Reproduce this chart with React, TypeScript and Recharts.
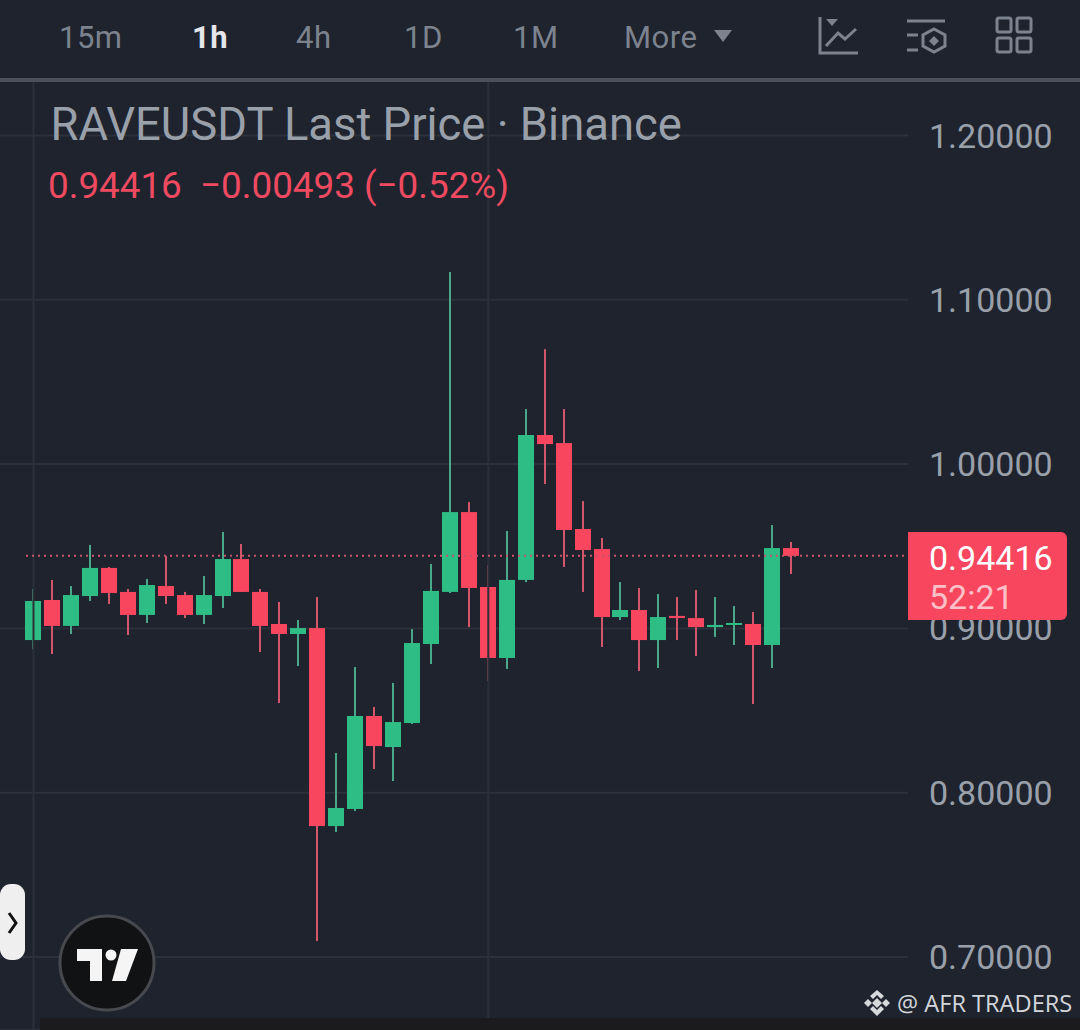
import { Bar, Cell, ComposedChart, CartesianGrid, ReferenceLine, XAxis, YAxis } from "recharts";

const UP = "#2ebd85";
const DOWN = "#f9465f";
const UP_WICK = "#4aa78a";
const DOWN_WICK = "#d4566b";
const BG = "#1e232e";
const GRID = "#2b303a";
const MUTED = "#9aa0aa";

const hours = [
  "00", "01", "02", "03", "04", "05", "06", "07", "08", "09", "10", "11", "12", "13",
  "14", "15", "16", "17", "18", "19", "20", "21", "22", "23", "24", "25", "26", "27",
  "28", "29", "30", "31", "32", "33", "34", "35", "36", "37", "38", "39", "40",
];
const opens = [
  0.8929, 0.9173, 0.9015, 0.9197, 0.9368, 0.9222, 0.9082, 0.9258, 0.9203, 0.9082, 0.9197,
  0.9422, 0.9222, 0.9027, 0.8966, 0.9002, 0.7797, 0.7901, 0.8467, 0.8278, 0.8424, 0.8905,
  0.9222, 0.9708, 0.9252, 0.882, 0.9295, 1.0177, 1.0128, 0.9605, 0.9483, 0.9069, 0.9112,
  0.8929, 0.9076, 0.9063, 0.9008, 0.9021, 0.9027, 0.8899, 0.9489,
];
const highs = [
  0.924, 0.9295, 0.9258, 0.9508, 0.9374, 0.924, 0.9301, 0.9441, 0.9222, 0.9319, 0.9587,
  0.9514, 0.924, 0.9161, 0.9051, 0.9191, 0.8242, 0.8765, 0.8522, 0.8668, 0.8996, 0.9392,
  1.1169, 0.9769, 0.9386, 0.9593, 1.0335, 1.07, 1.0335, 0.9775, 0.955, 0.9282, 0.9246,
  0.9209, 0.9191, 0.9234, 0.9191, 0.9136, 0.91, 0.9629, 0.9526,
];
const lows = [
  0.8875, 0.8844, 0.8966, 0.9167, 0.9149, 0.896, 0.9033, 0.9149, 0.9063, 0.9027, 0.9124,
  0.9222, 0.8856, 0.8546, 0.8771, 0.7097, 0.7761, 0.7889, 0.8144, 0.8071, 0.8418, 0.8783,
  0.9215, 0.9008, 0.868, 0.8753, 0.9282, 0.9879, 0.9374, 0.9222, 0.8887, 0.9051, 0.8741,
  0.8759, 0.8929, 0.8832, 0.8948, 0.8899, 0.854, 0.8759, 0.9331,
];
const closes = [
  0.9167, 0.9015, 0.9203, 0.9368, 0.9215, 0.9082, 0.9264, 0.9197, 0.9082, 0.9203, 0.9422,
  0.9222, 0.9015, 0.8966, 0.9002, 0.7797, 0.7907, 0.8467, 0.8284, 0.843, 0.8911, 0.9228,
  0.9708, 0.9246, 0.882, 0.9295, 1.0177, 1.0122, 0.9599, 0.9477, 0.9069, 0.9112, 0.8929,
  0.9069, 0.9063, 0.9008, 0.9021, 0.9033, 0.8899, 0.9489, 0.94416,
];
const priceTicks = [0.7, 0.8, 0.9, 1.0, 1.1, 1.2];
const timeframes = ["15m", "1h", "4h", "1D", "1M", "More"];
const timeframeX = [59, 192, 296, 404, 513, 624];
const lastPrice = 0.94416;

const candles = hours.map((t, i) => ({
  t,
  open: opens[i],
  high: highs[i],
  low: lows[i],
  close: closes[i],
}));

// bar spans low..high, the body is worked out from the same pixel scale
const CandleShape = (props: any) => {
  const { x, y, width, height, payload } = props;
  const { open, high, low, close } = payload;
  const up = close >= open;
  const perUnit = height / (high - low);
  const bodyTop = y + (high - Math.max(open, close)) * perUnit;
  const bodyH = Math.max(Math.abs(open - close) * perUnit, 2);
  const mid = Math.round(x + width / 2);
  return (
    <g>
      <rect x={mid - 1} y={y} width={2} height={height} fill={up ? UP_WICK : DOWN_WICK} />
      <rect x={mid - width / 2} y={bodyTop} width={width} height={bodyH} fill={up ? UP : DOWN} />
    </g>
  );
};

// right-hand axis hands the end points over right to left
const PriceLine = (props: any) => (
  <line
    x1={26}
    x2={Math.max(props.x1, props.x2)}
    y1={props.y1}
    y2={props.y2}
    stroke="#c9526a"
    strokeWidth={2}
    strokeDasharray="2 4"
  />
);

const Toolbar = () => (
  <>
    {timeframes.map((tf, i) => (
      <div
        key={tf}
        style={{
          position: "absolute",
          left: timeframeX[i],
          top: 19,
          fontSize: 31,
          lineHeight: "38px",
          letterSpacing: 0.5,
          fontWeight: tf === "1h" ? 700 : 400,
          color: tf === "1h" ? "#e4e6ea" : "#7d838e",
        }}
      >
        {tf}
      </div>
    ))}
    <svg width={1080} height={82} style={{ position: "absolute", left: 0, top: 0 }}>
      <path d="M714 30 L732 30 L723 42 Z" fill="#7d838e" />
      <path d="M826 19 L838 19 L832 26 Z" fill="#7d838e" />
      <g fill="none" stroke="#7d838e" strokeWidth={3}>
        <path d="M820 17 V53 H858" />
        <path d="M826 46 L838 33 L845 39 L856 29" />
        <path d="M907 21 H945" />
        <path d="M907 35 H918 M907 50 H918" />
        <path d="M934 29 L945 35 V46 L934 52 L923 46 V35 Z" />
        <rect x={997} y={18} width={14} height={14} rx={2} />
        <rect x={1017} y={18} width={14} height={14} rx={2} />
        <rect x={997} y={38} width={14} height={14} rx={2} />
        <rect x={1017} y={38} width={14} height={14} rx={2} />
      </g>
      <path d="M934 36 L939 41 L934 46 L929 41 Z" fill="#7d838e" />
      <rect x={0} y={78} width={1080} height={4} fill="#4b5059" />
    </svg>
  </>
);

const Overlays = () => (
  <>
    <div style={{ position: "absolute", left: 50.5, top: 98, fontSize: 45.4, lineHeight: "54px", color: MUTED, whiteSpace: "pre" }}>
      RAVEUSDT Last Price · Binance
    </div>
    <div style={{ position: "absolute", left: 48, top: 164, fontSize: 36.8, lineHeight: "44px", color: "#ef4a60", whiteSpace: "pre" }}>
      0.94416  −0.00493 (−0.52%)
    </div>
    <div
      style={{
        position: "absolute",
        left: 908,
        top: 532,
        width: 159,
        height: 88,
        background: "#f9465f",
        borderRadius: "0 6px 6px 0",
      }}
    >
      <div style={{ position: "absolute", left: 21, top: 5, fontSize: 34, lineHeight: "42px", color: "#ffffff" }}>0.94416</div>
      <div style={{ position: "absolute", left: 21, top: 44, fontSize: 34, lineHeight: "42px", color: "#fbc0c8" }}>52:21</div>
    </div>
    <div style={{ position: "absolute", left: 0, top: 884, width: 25, height: 76, background: "#efeff0", borderRadius: 11 }} />
    <svg width={1080} height={1030} style={{ position: "absolute", left: 0, top: 0, pointerEvents: "none" }}>
      <path d="M9 913 L16 923 L9 933" fill="none" stroke="#111" strokeWidth={3} />
      <rect x={40} y={1018} width={1040} height={12} fill="#1b1b1d" />
      <circle cx={107} cy={963} r={47} fill="#111214" stroke="#47494e" strokeWidth={3} />
      <path d="M77 949 H102 V981 H90 V961 H77 Z" fill="#f5f5f5" />
      <circle cx={111} cy={955} r={5.5} fill="#f5f5f5" />
      <path d="M121 949 H138 L126 981 H112 Z" fill="#f5f5f5" />
      <g fill="#d6d8dc">
        <path d="M877 990 L884 996 L881 999 L877 995 L873 999 L870 996 Z" />
        <path d="M877 1016 L870 1009 L873 1006 L877 1010 L881 1006 L884 1009 Z" />
        <path d="M877 998 L882 1003 L877 1008 L872 1003 Z" />
        <path d="M868 999 L872 1003 L868 1007 L864 1003 Z" />
        <path d="M886 999 L890 1003 L886 1007 L882 1003 Z" />
      </g>
    </svg>
    <div style={{ position: "absolute", left: 897, top: 988, fontSize: 23.6, lineHeight: "30px", color: "#d3d5da", fontFamily: "'Open Sans', sans-serif", whiteSpace: "pre" }}>
      @ AFR TRADERS
    </div>
  </>
);

export default function App() {
  return (
    <div
      style={{
        position: "absolute",
        left: 0,
        top: 0,
        width: 1080,
        height: 1030,
        background: BG,
        overflow: "hidden",
        fontFamily: "Roboto, sans-serif",
      }}
    >
      <ComposedChart
        width={1080}
        height={950}
        data={candles}
        margin={{ top: 0, right: 0, bottom: 0, left: 0 }}
        style={{ position: "absolute", left: 0, top: 80 }}
      >
        <CartesianGrid vertical={false} stroke={GRID} strokeWidth={2} />
        <XAxis dataKey="t" hide padding={{ left: 24, right: 107 }} />
        <YAxis
          orientation="right"
          width={172}
          domain={[0.65557, 1.23378]}
          ticks={priceTicks}
          interval={0}
          axisLine={false}
          tickLine={false}
          tickSize={0}
          tickMargin={21}
          tick={{ fontSize: 34, fill: MUTED }}
          tickFormatter={(v: number) => v.toFixed(5)}
        />
        <ReferenceLine x="00" stroke={GRID} strokeWidth={2} />
        <ReferenceLine x="24" stroke={GRID} strokeWidth={2} />
        <ReferenceLine y={lastPrice} shape={PriceLine} />
        <Bar
          dataKey={(d: any) => [d.low, d.high]}
          barSize={16}
          shape={CandleShape}
          isAnimationActive={false}
        >
          {candles.map((c) => (
            <Cell key={c.t} fill={c.close >= c.open ? UP : DOWN} />
          ))}
        </Bar>
      </ComposedChart>
      <Toolbar />
      <Overlays />
    </div>
  );
}
